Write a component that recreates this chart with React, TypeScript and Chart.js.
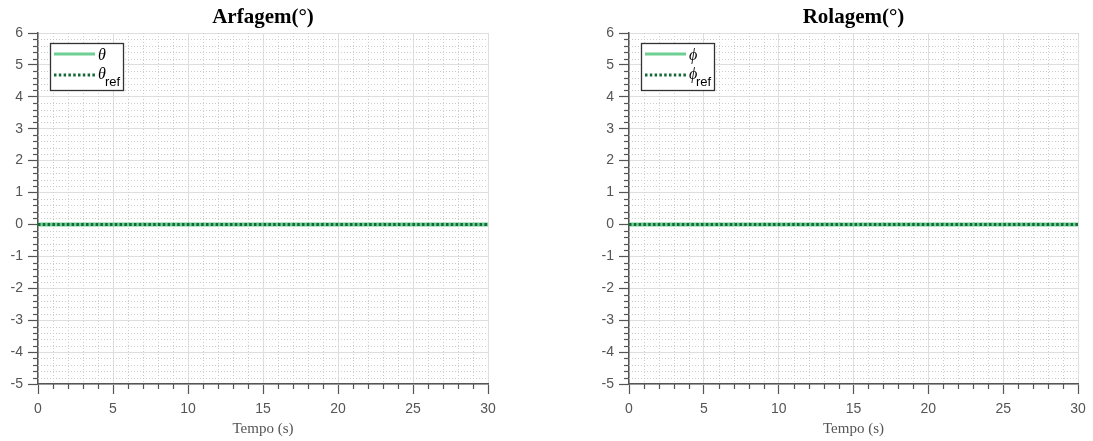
import React, { useEffect, useRef } from "react";
import { Chart, registerables } from "chart.js";

Chart.register(...registerables);

// ---- data ----
const time = [0, 5, 10, 15, 20, 25, 30];
const theta = [0, 0, 0, 0, 0, 0, 0];
const thetaRef = [0, 0, 0, 0, 0, 0, 0];
const phi = [0, 0, 0, 0, 0, 0, 0];
const phiRef = [0, 0, 0, 0, 0, 0, 0];

const xMin = 0;
const xMax = 30;
const yMin = -5;
const yMax = 6;
const xMajorStep = 5;
const yMajorStep = 1;
const xMinorStep = 1;
const yMinorStep = 0.2;

const titles = ["Arfagem(°)", "Rolagem(°)"];
const xTitle = "Tempo (s)";
const legendSymbols = ["θ", "ϕ"];
const legendSub = "ref";

const LIGHT = "rgb(108,208,146)";
const DARK = "rgb(22,104,56)";
const AXIS = "#555555";

function makePlugin(title: string, sym: string) {
  return {
    id: "custom" + title,
    beforeDatasetsDraw(chart: any) {
      const { ctx, chartArea } = chart;
      const xs = chart.scales.x;
      const ys = chart.scales.y;
      ctx.save();
      // minor grid
      ctx.strokeStyle = "#cdcdcd";
      ctx.lineWidth = 1;
      ctx.setLineDash([1, 2]);
      const nx = Math.round((xMax - xMin) / xMinorStep);
      for (let i = 0; i <= nx; i++) {
        const v = xMin + i * xMinorStep;
        if (Math.abs(v / xMajorStep - Math.round(v / xMajorStep)) < 1e-6) continue;
        const px = Math.round(xs.getPixelForValue(v)) + 0.5;
        ctx.beginPath();
        ctx.moveTo(px, chartArea.top);
        ctx.lineTo(px, chartArea.bottom);
        ctx.stroke();
      }
      const ny = Math.round((yMax - yMin) / yMinorStep);
      for (let i = 0; i <= ny; i++) {
        const v = yMin + i * yMinorStep;
        if (Math.abs(v / yMajorStep - Math.round(v / yMajorStep)) < 1e-6) continue;
        const py = Math.round(ys.getPixelForValue(v)) + 0.5;
        ctx.beginPath();
        ctx.moveTo(chartArea.left, py);
        ctx.lineTo(chartArea.right, py);
        ctx.stroke();
      }
      // minor ticks
      ctx.setLineDash([]);
      ctx.strokeStyle = AXIS;
      ctx.lineWidth = 1.2;
      for (let i = 0; i <= nx; i++) {
        const v = xMin + i * xMinorStep;
        if (Math.abs(v / xMajorStep - Math.round(v / xMajorStep)) < 1e-6) continue;
        const px = Math.round(xs.getPixelForValue(v)) + 0.5;
        ctx.beginPath();
        ctx.moveTo(px, chartArea.bottom);
        ctx.lineTo(px, chartArea.bottom + 5);
        ctx.stroke();
      }
      for (let i = 0; i <= ny; i++) {
        const v = yMin + i * yMinorStep;
        if (Math.abs(v / yMajorStep - Math.round(v / yMajorStep)) < 1e-6) continue;
        const py = Math.round(ys.getPixelForValue(v)) + 0.5;
        ctx.beginPath();
        ctx.moveTo(chartArea.left - 5, py);
        ctx.lineTo(chartArea.left, py);
        ctx.stroke();
      }
      ctx.restore();
    },
    afterDatasetsDraw(chart: any) {
      const { ctx, chartArea } = chart;
      ctx.save();
      const cx = (chartArea.left + chartArea.right) / 2;
      // title
      ctx.fillStyle = "#000";
      ctx.font = "bold 21px 'Liberation Serif', serif";
      ctx.textAlign = "center";
      ctx.textBaseline = "middle";
      ctx.fillText(title, cx, 18);
      // x title
      ctx.fillStyle = AXIS;
      ctx.font = "15px 'Liberation Serif', serif";
      ctx.fillText(xTitle, cx, 429);
      // legend
      const bx = chartArea.left + 12;
      const by = chartArea.top + 10;
      const bw = 73;
      const bh = 47;
      ctx.fillStyle = "#fff";
      ctx.fillRect(bx, by, bw, bh);
      ctx.strokeStyle = "#333";
      ctx.lineWidth = 1.3;
      ctx.strokeRect(bx + 0.5, by + 0.5, bw, bh);
      ctx.lineWidth = 3;
      ctx.strokeStyle = LIGHT;
      ctx.beginPath();
      ctx.moveTo(bx + 4, by + 11);
      ctx.lineTo(bx + 45, by + 11);
      ctx.stroke();
      ctx.strokeStyle = DARK;
      ctx.setLineDash([2.5, 2.3]);
      ctx.beginPath();
      ctx.moveTo(bx + 4, by + 32);
      ctx.lineTo(bx + 45, by + 32);
      ctx.stroke();
      ctx.setLineDash([]);
      ctx.fillStyle = "#000";
      ctx.textAlign = "left";
      ctx.textBaseline = "alphabetic";
      ctx.font = "italic 16px 'Liberation Serif', serif";
      ctx.fillText(sym, bx + 48, by + 17);
      ctx.fillText(sym, bx + 48, by + 36);
      ctx.font = "13px 'Liberation Sans', sans-serif";
      ctx.fillText(legendSub, bx + 55, by + 43);
      ctx.restore();
    },
  };
}

function Panel(props: { idx: number; left: number; width: number; padLeft: number; padRight: number; a: number[]; b: number[] }) {
  const ref = useRef<HTMLCanvasElement>(null);
  useEffect(() => {
    const canvas = ref.current!;
    const chart = new Chart(canvas, {
      type: "line",
      data: {
        datasets: [
          {
            data: time.map((t, i) => ({ x: t, y: props.b[i] })),
            borderColor: DARK,
            borderWidth: 3,
            borderDash: [2.5, 2.3],
            pointRadius: 0,
            order: 0,
          },
          {
            data: time.map((t, i) => ({ x: t, y: props.a[i] })),
            borderColor: LIGHT,
            borderWidth: 4,
            pointRadius: 0,
            order: 1,
          },
        ],
      },
      options: {
        animation: false,
        responsive: false,
        maintainAspectRatio: false,
        layout: { padding: { left: props.padLeft, right: props.padRight, top: 33, bottom: 0 } },
        plugins: { legend: { display: false }, tooltip: { enabled: false }, title: { display: false } },
        scales: {
          x: {
            type: "linear",
            min: xMin,
            max: xMax,
            afterFit: (s: any) => { s.height = 57; },
            ticks: { stepSize: xMajorStep, color: AXIS, font: { family: "'Liberation Sans', sans-serif", size: 14 }, padding: 7, maxRotation: 0 },
            grid: { color: "#dedede", lineWidth: 1, tickLength: 10, tickColor: AXIS, tickWidth: 1.2 },
            border: { color: AXIS, width: 1.5 },
          },
          y: {
            type: "linear",
            min: yMin,
            max: yMax,
            afterFit: (s: any) => { s.width = 38; },
            ticks: { stepSize: yMajorStep, color: AXIS, font: { family: "'Liberation Sans', sans-serif", size: 14 }, padding: 5 },
            grid: { color: "#dedede", lineWidth: 1, tickLength: 10, tickColor: AXIS, tickWidth: 1.2 },
            border: { color: AXIS, width: 1.5 },
          },
        },
      } as any,
      plugins: [makePlugin(titles[props.idx], legendSymbols[props.idx])],
    });
    return () => chart.destroy();
  }, []);
  return (
    <canvas
      ref={ref}
      width={props.width}
      height={441}
      style={{ position: "absolute", left: props.left, top: 0, width: props.width, height: 441 }}
    />
  );
}

export default function App() {
  return (
    <div style={{ position: "fixed", left: 0, top: 0, width: 1093, height: 441, background: "#fff" }}>
      <Panel idx={0} left={0} width={546} padLeft={0} padRight={58} a={theta} b={thetaRef} />
      <Panel idx={1} left={546} width={547} padLeft={45} padRight={15} a={phi} b={phiRef} />
    </div>
  );
}
